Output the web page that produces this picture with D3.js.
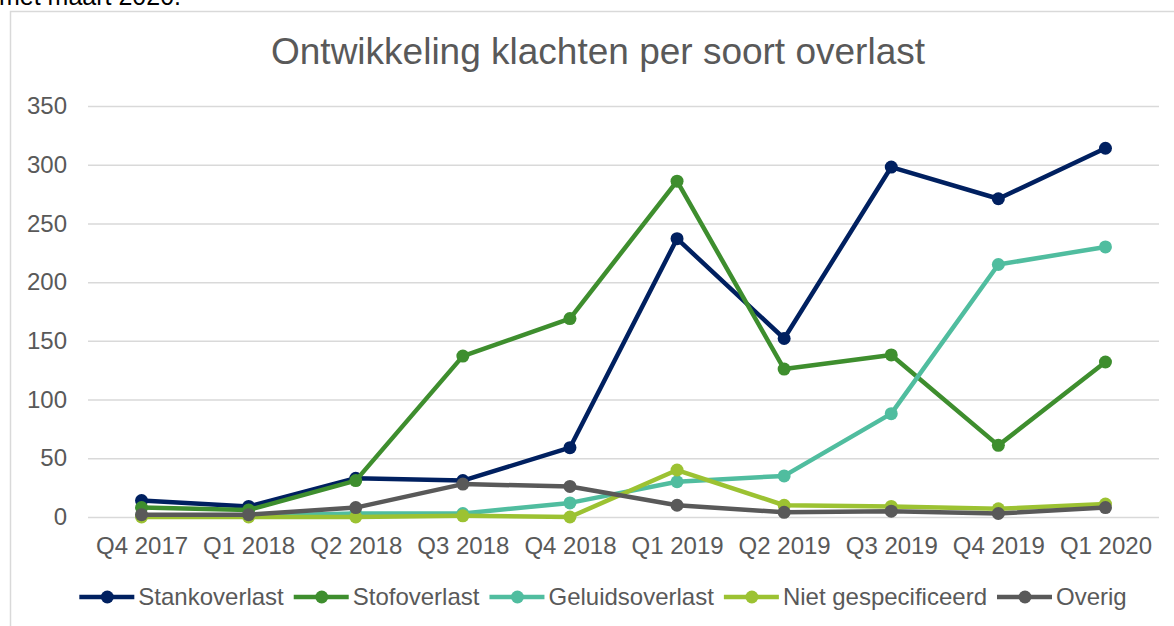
<!DOCTYPE html>
<html>
<head>
<meta charset="utf-8">
<script src="https://cdn.jsdelivr.net/npm/d3@7"></script>
<style>
  body { margin: 0; background: #fff; overflow: hidden; }
  text { font-family: "Liberation Sans", Arial, sans-serif; }
</style>
</head>
<body>
<svg id="chart" width="1174" height="626"></svg>
<script>
// quarters on the x axis
let quarters = ["Q4 2017", "Q1 2018", "Q2 2018", "Q3 2018", "Q4 2018",
                "Q1 2019", "Q2 2019", "Q3 2019", "Q4 2019", "Q1 2020"];

// complaints per type
let stankoverlast = [14, 9, 33, 31, 59, 237, 152, 298, 271, 314];
let stofoverlast = [8, 6, 31, 137, 169, 286, 126, 138, 61, 132];
let geluidsoverlast = [1, 1, 3, 3, 12, 30, 35, 88, 215, 230];
let nietGespecificeerd = [0, 0, 0, 1, 0, 40, 10, 9, 7, 11];
let overig = [2, 2, 8, 28, 26, 10, 4, 5, 3, 8];

let seriesNames = ["Stankoverlast", "Stofoverlast", "Geluidsoverlast", "Niet gespecificeerd", "Overig"];
let yTicks = [0, 50, 100, 150, 200, 250, 300, 350];

function drawChart() {
  const svg = d3.select("#chart");
  const margin = { left: 88, right: 15, top: 106, bottom: 109 };
  const width = 1174, height = 626;

  const colors = ["#002060", "#3e8e2e", "#50bd9f", "#9cc232", "#595959"];
  const allValues = [stankoverlast, stofoverlast, geluidsoverlast, nietGespecificeerd, overig];

  // cut-off text from the page above the chart
  svg.append("text")
    .attr("x", -1).attr("y", 5)
    .attr("font-size", 25)
    .attr("fill", "#000")
    .text("met maart 2020.");

  // chart frame
  svg.append("rect")
    .attr("x", 10.5).attr("y", 11.5)
    .attr("width", 1180).attr("height", 640)
    .attr("fill", "#fff")
    .attr("stroke", "#d9d9d9")
    .attr("stroke-width", 1.5);

  svg.append("text")
    .attr("x", 598).attr("y", 64)
    .attr("text-anchor", "middle")
    .attr("font-size", 37)
    .attr("fill", "#595959")
    .text("Ontwikkeling klachten per soort overlast");

  const xScale = d3.scalePoint()
    .domain(quarters)
    .range([margin.left, width - margin.right])
    .padding(0.5);

  const yScale = d3.scaleLinear()
    .domain([0, 350])
    .range([height - margin.bottom, margin.top]);

  // gridlines + y labels
  const yAxis = svg.append("g")
    .attr("transform", `translate(${margin.left},0)`)
    .call(d3.axisLeft(yScale)
      .tickValues(yTicks)
      .tickSize(-(width - margin.right - margin.left))
      .tickPadding(21));
  yAxis.select(".domain").remove();
  yAxis.selectAll(".tick line").attr("stroke", "#d9d9d9").attr("stroke-width", 1.5);
  yAxis.selectAll(".tick text")
    .attr("font-size", 24)
    .attr("fill", "#595959")
    .attr("font-family", "Liberation Sans, Arial, sans-serif");

  // x labels
  const xAxis = svg.append("g")
    .attr("transform", `translate(0,${height - margin.bottom})`)
    .call(d3.axisBottom(xScale).tickSize(0).tickPadding(20));
  xAxis.select(".domain").remove();
  xAxis.selectAll(".tick text")
    .attr("font-size", 24)
    .attr("fill", "#595959")
    .attr("font-family", "Liberation Sans, Arial, sans-serif");

  const line = d3.line()
    .x((d, i) => xScale(quarters[i]))
    .y(d => yScale(d));

  allValues.forEach(function(vals, s) {
    const g = svg.append("g");
    g.append("path")
      .datum(vals)
      .attr("d", line)
      .attr("fill", "none")
      .attr("stroke", colors[s])
      .attr("stroke-width", 4.5)
      .attr("stroke-linejoin", "round");
    g.selectAll("circle")
      .data(vals)
      .join("circle")
      .attr("cx", (d, i) => xScale(quarters[i]))
      .attr("cy", d => yScale(d))
      .attr("r", 6.5)
      .attr("fill", colors[s]);
  });

  // legend
  const legend = svg.append("g");
  const items = legend.selectAll("g")
    .data(seriesNames)
    .join("g");
  items.append("line")
    .attr("x1", 0).attr("x2", 55)
    .attr("y1", 0).attr("y2", 0)
    .attr("stroke", (d, i) => colors[i])
    .attr("stroke-width", 4.5);
  items.append("circle")
    .attr("cx", 28).attr("cy", 0).attr("r", 6.5)
    .attr("fill", (d, i) => colors[i]);
  items.append("text")
    .attr("x", 59).attr("y", 0)
    .attr("dy", "0.33em")
    .attr("font-size", 24)
    .attr("fill", "#595959")
    .text(d => d);

  let pos = 0;
  const offsets = [];
  items.each(function() {
    offsets.push(pos);
    const w = d3.select(this).select("text").node().getComputedTextLength();
    pos += 59 + w + 10;
  });
  const total = pos - 10;
  const startX = 603 - total / 2;
  items.attr("transform", (d, i) => `translate(${startX + offsets[i]},597)`);
}

window.onload = drawChart;
</script>
</body>
</html>
